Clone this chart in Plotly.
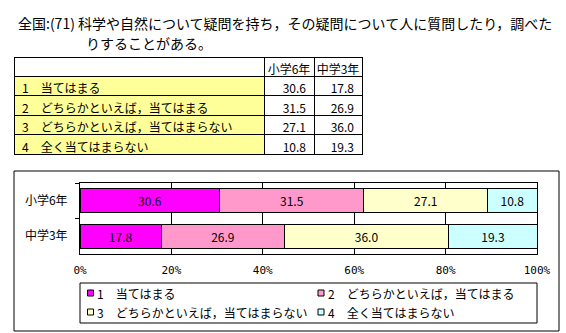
import plotly.graph_objects as go

# Survey data (percent of respondents)
title_lines = [
    "全国:(71) 科学や自然について疑問を持ち，その疑問について人に質問したり，調べた",
    "りすることがある。",
]
grades = ["小学6年", "中学3年"]
answers = [
    "1　当てはまる",
    "2　どちらかといえば，当てはまる",
    "3　どちらかといえば，当てはまらない",
    "4　全く当てはまらない",
]
elem6 = [30.6, 31.5, 27.1, 10.8]   # 小学6年
jhs3 = [17.8, 26.9, 36.0, 19.3]    # 中学3年
colors = ["#FF00FF", "#FF99CC", "#FFFFCC", "#CCFFFF"]
tick_vals = [0, 20, 40, 60, 80, 100]
tick_text = ["0%", "20%", "40%", "60%", "80%", "100%"]

W, H = 566, 333
FONT = "Noto Sans CJK JP"


def px(x):
    return x / W


def py(y):
    return 1 - y / H


fig = go.Figure()

# Summary table
fig.add_trace(go.Table(
    domain=dict(x=[px(14), px(362)], y=[py(155), py(57)]),
    columnwidth=[250, 50, 48],
    header=dict(
        values=["", grades[0], grades[1]],
        fill_color="white",
        line=dict(color="black", width=1),
        font=dict(family=FONT, size=12, color="black"),
        align=["left", "center", "center"],
        height=19,
    ),
    cells=dict(
        values=[answers, [f"{v:.1f}" for v in elem6], [f"{v:.1f}" for v in jhs3]],
        fill_color=[["#FFFF99"] * len(answers), ["white"] * len(answers), ["white"] * len(answers)],
        line=dict(color="black", width=1),
        font=dict(family=FONT, size=12, color="black"),
        align=["left", "right", "right"],
        height=19.5,
    ),
))

# 100% stacked horizontal bars
for i, ans in enumerate(answers):
    vals = [elem6[i], jhs3[i]]
    fig.add_trace(go.Bar(
        orientation="h",
        y=grades,
        x=vals,
        name=ans,
        marker=dict(color=colors[i], line=dict(color="black", width=1)),
        text=[f"{v:.1f}" for v in vals],
        textposition="inside",
        insidetextanchor="middle",
        textfont=dict(family=FONT, size=12, color="black"),
        hoverinfo="skip",
        showlegend=False,
    ))

shapes = []
annotations = []

# Chart frame and legend frame
shapes.append(dict(type="rect", xref="paper", yref="paper",
                   x0=px(14), x1=px(559), y0=py(331), y1=py(171),
                   line=dict(color="black", width=1)))
shapes.append(dict(type="rect", xref="paper", yref="paper",
                   x0=px(80), x1=px(537), y0=py(323), y1=py(283),
                   line=dict(color="black", width=1)))

# Legend entries in two columns
leg_cols = [90.5, 321]
leg_rows = [293, 312]
for i, ans in enumerate(answers):
    cx = leg_cols[i % 2]
    cy = leg_rows[i // 2]
    shapes.append(dict(type="rect", xref="paper", yref="paper",
                       x0=px(cx - 3), x1=px(cx + 3), y0=py(cy + 3), y1=py(cy - 3),
                       fillcolor=colors[i], line=dict(color="black", width=1)))
    annotations.append(dict(text=ans, xref="paper", yref="paper",
                            x=px(cx + 4.5), y=py(cy), xanchor="left", yanchor="middle",
                            showarrow=False,
                            font=dict(family=FONT, size=12, color="black")))

# Title lines
annotations.append(dict(text=title_lines[0], xref="paper", yref="paper",
                        x=px(16), y=py(23), xanchor="left", yanchor="middle",
                        showarrow=False, font=dict(family=FONT, size=14, color="black")))
annotations.append(dict(text=title_lines[1], xref="paper", yref="paper",
                        x=px(84), y=py(43), xanchor="left", yanchor="middle",
                        showarrow=False, font=dict(family=FONT, size=14, color="black")))

fig.update_layout(
    width=W, height=H,
    margin=dict(l=0, r=0, t=0, b=0),
    paper_bgcolor="white",
    plot_bgcolor="white",
    barmode="stack",
    bargap=0.32,
    showlegend=False,
    shapes=shapes,
    annotations=annotations,
    font=dict(family=FONT, size=12, color="black"),
    xaxis=dict(
        domain=[px(80), px(537)],
        range=[0, 100],
        automargin=False,
        tickmode="array",
        tickvals=tick_vals,
        ticktext=tick_text,
        showgrid=True, gridcolor="black", gridwidth=1,
        showline=True, linecolor="black", linewidth=1, mirror=True,
        ticks="", ticklabelstandoff=6,
        zeroline=False,
        tickfont=dict(family="DejaVu Sans Mono", size=11, color="black"),
    ),
    yaxis=dict(
        domain=[py(254), py(183)],
        autorange="reversed",
        automargin=False,
        showline=True, linecolor="black", linewidth=1, mirror=True,
        ticks="outside", ticklen=4, tickcolor="black", tickson="boundaries",
        ticklabelstandoff=9,
        tickfont=dict(family=FONT, size=12, color="black"),
    ),
)

fig.write_html("out.html")
